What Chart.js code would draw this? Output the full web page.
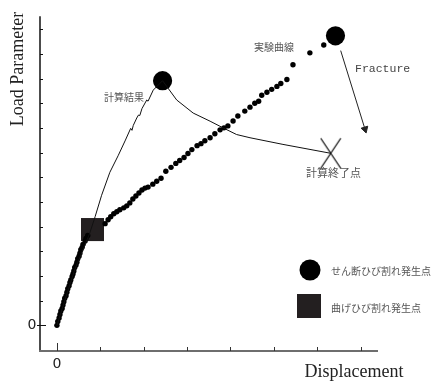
<!DOCTYPE html>
<html>
<head>
<meta charset="utf-8">
<script src="https://cdn.jsdelivr.net/npm/chart.js@4/dist/chart.umd.min.js"></script>
<style>
  html, body { margin: 0; padding: 0; background: #fff; }
  #wrap { width: 433px; height: 382px; }
</style>
</head>
<body>
<div id="wrap"><canvas id="loadChart" width="433" height="382"></canvas></div>
<script>
const expX = [0, 0.02, 0.05, 0.07, 0.09, 0.12, 0.14, 0.16, 0.18, 0.21, 0.23, 0.25, 0.28, 0.30, 0.32, 0.35,
  0.37, 0.39, 0.41, 0.44, 0.46, 0.48, 0.51, 0.53, 0.55, 0.58, 0.60, 0.65, 0.67, 0.71,
  1.11, 1.18, 1.24, 1.31, 1.38, 1.45, 1.54, 1.61, 1.68, 1.75, 1.82, 1.89, 1.96, 2.03, 2.10,
  2.21, 2.30, 2.40, 2.51, 2.63, 2.74, 2.83, 2.93, 3.02, 3.11, 3.23, 3.32, 3.41, 3.53, 3.64,
  3.76, 3.85, 3.94, 4.06, 4.17, 4.33, 4.45, 4.56, 4.65, 4.72, 4.84, 4.95, 5.07, 5.16, 5.30,
  5.44, 5.83, 6.15];
const expY = [0, 0.16, 0.30, 0.44, 0.58, 0.68, 0.82, 0.96, 1.10, 1.20, 1.34, 1.48, 1.60, 1.74, 1.84, 1.98,
  2.08, 2.20, 2.34, 2.44, 2.56, 2.70, 2.80, 2.92, 3.06, 3.16, 3.28, 3.42, 3.52, 3.64,
  4.12, 4.28, 4.40, 4.52, 4.60, 4.68, 4.76, 4.84, 4.96, 5.12, 5.24, 5.36, 5.48, 5.56, 5.60,
  5.72, 5.84, 5.96, 6.24, 6.40, 6.56, 6.68, 6.80, 6.96, 7.12, 7.28, 7.36, 7.48, 7.60, 7.76,
  7.92, 8.00, 8.08, 8.28, 8.48, 8.68, 8.84, 9.00, 9.08, 9.32, 9.44, 9.56, 9.68, 9.80, 9.96,
  10.56, 11.04, 11.36];

// calculated curve (thin line)
const calcX = [0, 0.40, 0.75, 0.88, 1.03, 1.22, 1.41, 1.57, 1.70, 1.73, 1.76, 1.84, 1.88, 1.91, 1.96,
  2.07, 2.10, 2.22, 2.435, 2.76, 3.14, 3.53, 3.83, 4.14, 4.45, 5.21, 6.31];
const calcY = [0, 2.20, 3.70, 4.40, 5.27, 6.20, 6.87, 7.47, 7.98, 7.90, 8.10, 8.40, 8.52, 8.50, 8.78,
  9.13, 9.08, 9.53, 9.91, 9.13, 8.60, 8.27, 8.00, 7.73, 7.60, 7.33, 6.97];

// crack points and end of calculation
const shearX = [2.435, 6.42];
const shearY = [9.91, 11.73];
const flexX = [0.82];
const flexY = [3.88];
const endX = [6.31];
const endY = [6.97];

// fracture arrow
const arrowX = [6.54, 7.10];
const arrowY = [11.13, 7.95];

const xTicks = [0, 1, 2, 3, 4, 5, 6, 7];
const yTicks = [0, 1, 2, 3, 4, 5, 6, 7, 8, 9, 10, 11, 12];

const toPts = (xs, ys) => xs.map((x, i) => ({ x, y: ys[i] }));

const jpFont = '"Noto Sans CJK JP", sans-serif';

// tall X marker for the end of calculation
function makeCross() {
  const c = document.createElement("canvas");
  c.width = 22;
  c.height = 32;
  const g = c.getContext("2d");
  g.strokeStyle = "#000";
  g.lineWidth = 1.2;
  g.beginPath();
  g.moveTo(1, 1); g.lineTo(21, 31);
  g.moveTo(21, 1); g.lineTo(1, 31);
  g.stroke();
  return c;
}

const axesPlugin = {
  id: "axesPlugin",
  afterDraw(chart) {
    const { ctx, chartArea: a, scales } = chart;
    const xs = scales.x, ys = scales.y;
    ctx.save();

    // y axis
    ctx.strokeStyle = "#111";
    ctx.lineWidth = 1.5;
    ctx.beginPath();
    ctx.moveTo(a.left, a.top);
    ctx.lineTo(a.left, a.bottom);
    ctx.stroke();

    ctx.lineWidth = 1;
    for (const t of yTicks) {
      const py = Math.round(ys.getPixelForValue(t)) + 0.5;
      ctx.beginPath();
      if (t === 0) {
        ctx.moveTo(a.left - 3, py);
        ctx.lineTo(a.left + 6, py);
      } else {
        ctx.moveTo(a.left, py);
        ctx.lineTo(a.left + 3, py);
      }
      ctx.stroke();
    }

    // x axis
    ctx.strokeStyle = "#6e6e6e";
    ctx.lineWidth = 2;
    ctx.beginPath();
    ctx.moveTo(a.left - 1, a.bottom);
    ctx.lineTo(a.right, a.bottom);
    ctx.stroke();

    ctx.strokeStyle = "#333";
    ctx.lineWidth = 1;
    for (const t of xTicks) {
      const px = Math.round(xs.getPixelForValue(t)) + 0.5;
      ctx.beginPath();
      ctx.moveTo(px, a.bottom);
      ctx.lineTo(px, a.bottom - (t === 0 ? 8 : 4));
      ctx.stroke();
    }

    // zero labels
    ctx.fillStyle = "#222";
    ctx.font = '14px "DejaVu Sans", sans-serif';
    ctx.textAlign = "center";
    ctx.textBaseline = "middle";
    ctx.fillText("0", 32, ys.getPixelForValue(0));
    ctx.fillText("0", xs.getPixelForValue(0), 364);

    // axis titles
    ctx.font = '18px "Liberation Serif", serif';
    ctx.fillStyle = "#222";
    ctx.fillText("Displacement", 354, 372);
    ctx.save();
    ctx.translate(18, 69);
    ctx.rotate(-Math.PI / 2);
    ctx.fillText("Load Parameter", 0, 0);
    ctx.restore();

    // annotations
    ctx.fillStyle = "#555";
    ctx.textAlign = "left";
    ctx.font = "10px " + jpFont;
    ctx.fillText("計算結果", 104, 97);
    ctx.fillText("実験曲線", 254, 47);
    ctx.font = "11px " + jpFont;
    ctx.fillText("計算終了点", 306, 173);
    ctx.font = '11.5px "Liberation Mono", monospace';
    ctx.fillStyle = "#444";
    ctx.fillText("Fracture", 355, 69);

    // legend
    ctx.fillStyle = "#000";
    ctx.beginPath();
    ctx.arc(310, 270, 10.5, 0, Math.PI * 2);
    ctx.fill();
    ctx.fillStyle = "#231f20";
    ctx.fillRect(297, 294, 24, 24);
    ctx.fillStyle = "#555";
    ctx.font = "10px " + jpFont;
    ctx.fillText("せん断ひび割れ発生点", 331, 271);
    ctx.fillText("曲げひび割れ発生点", 331, 308);

    ctx.restore();
  }
};

new Chart(document.getElementById("loadChart"), {
  type: "scatter",
  data: {
    datasets: [
      {
        label: "計算結果",
        data: toPts(calcX, calcY),
        showLine: true,
        borderColor: "#111",
        borderWidth: 1,
        pointRadius: 0,
        tension: 0
      },
      {
        label: "実験曲線",
        data: toPts(expX, expY),
        backgroundColor: "#000",
        borderColor: "#000",
        pointRadius: 2.7,
        borderWidth: 0
      },
      {
        label: "Fracture",
        data: toPts(arrowX, arrowY),
        showLine: true,
        borderColor: "#222",
        backgroundColor: "#222",
        borderWidth: 1,
        pointStyle: "triangle",
        pointRadius: [0, 4],
        pointRotation: [0, 163]
      },
      {
        label: "せん断ひび割れ発生点",
        data: toPts(shearX, shearY),
        backgroundColor: "#000",
        borderWidth: 0,
        pointRadius: 9.6
      },
      {
        label: "曲げひび割れ発生点",
        data: toPts(flexX, flexY),
        backgroundColor: "#231f20",
        borderWidth: 0,
        pointStyle: "rect",
        pointRadius: 16.3
      },
      {
        label: "計算終了点",
        data: toPts(endX, endY),
        pointStyle: makeCross(),
        pointRadius: 10
      }
    ]
  },
  options: {
    responsive: false,
    animation: false,
    devicePixelRatio: 1,
    layout: { padding: { left: 40, right: 55, top: 12, bottom: 31 } },
    plugins: {
      legend: { display: false },
      tooltip: { enabled: false }
    },
    scales: {
      x: { type: "linear", min: -0.39, max: 7.4, display: false },
      y: { type: "linear", min: -1.04, max: 12.52, display: false }
    },
    elements: { point: { hoverRadius: 0 } },
    clip: false
  },
  plugins: [axesPlugin]
});
</script>
</body>
</html>
